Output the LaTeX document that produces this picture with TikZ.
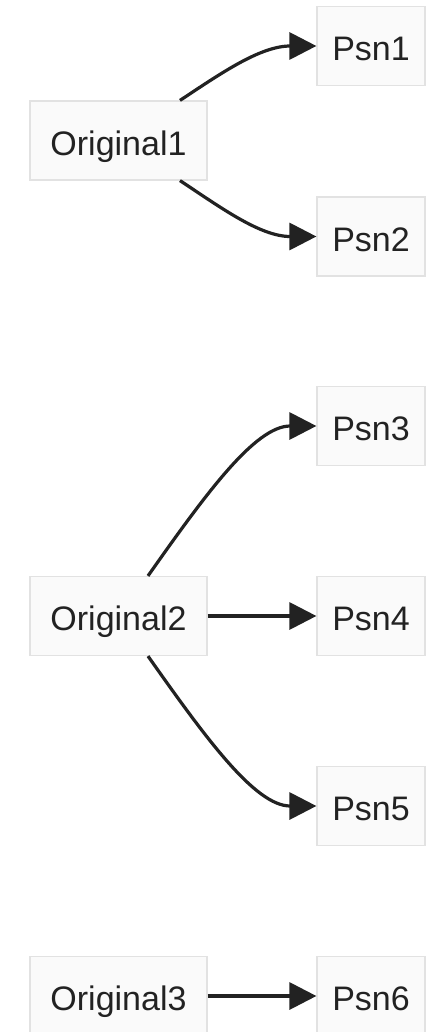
\documentclass[tikz,border=0pt]{standalone}
\usepackage{fontspec}
\setmainfont{Liberation Sans}
\usetikzlibrary{arrows.meta,calc}
\definecolor{boxfill}{HTML}{FAFAFA}
\definecolor{boxline}{HTML}{E2E2E2}
\definecolor{ink}{HTML}{222222}
\tikzset{
  box/.style={rectangle, draw=boxline, fill=boxfill, line width=1.2pt, inner sep=0pt,
    minimum height=79pt, text=ink, font=\fontsize{34}{41}\selectfont,
    text height=29.4pt, text depth=0pt},
  orig/.style={box, minimum width=177pt},
  psn/.style={box, minimum width=108pt},
  link/.style={draw=ink, line width=3.2pt, -{Triangle[length=27pt,width=27pt]}}
}
\begin{document}
\begin{tikzpicture}[x=1pt,y=-1pt]
\useasboundingbox (0,0) rectangle (434,1032);
\node[orig] (o1) at (118.5,140.5) {Original1};
\node[orig] (o2) at (118.5,616) {Original2};
\node[orig] (o3) at (118.5,996) {Original3};
\node[psn] (p1) at (371,46) {Psn1};
\node[psn] (p2) at (371,236.5) {Psn2};
\node[psn] (p3) at (371,426) {Psn3};
\node[psn] (p4) at (371,616) {Psn4};
\node[psn] (p5) at (371,806) {Psn5};
\node[psn] (p6) at (371,996) {Psn6};
\draw[link] ($(o1.north)+(61.5,0)$) .. controls (220,74) and (260,46) .. (p1.west);
\draw[link] ($(o1.south)+(61.5,0)$) .. controls (220,207) and (260,236.5) .. (p2.west);
\draw[link] ($(o2.north)+(29.5,0)$) .. controls (205,495) and (255,426) .. (p3.west);
\draw[link] (o2.east) -- (p4.west);
\draw[link] ($(o2.south)+(29.5,0)$) .. controls (205,737) and (255,806) .. (p5.west);
\draw[link] (o3.east) -- (p6.west);
\end{tikzpicture}
\end{document}
